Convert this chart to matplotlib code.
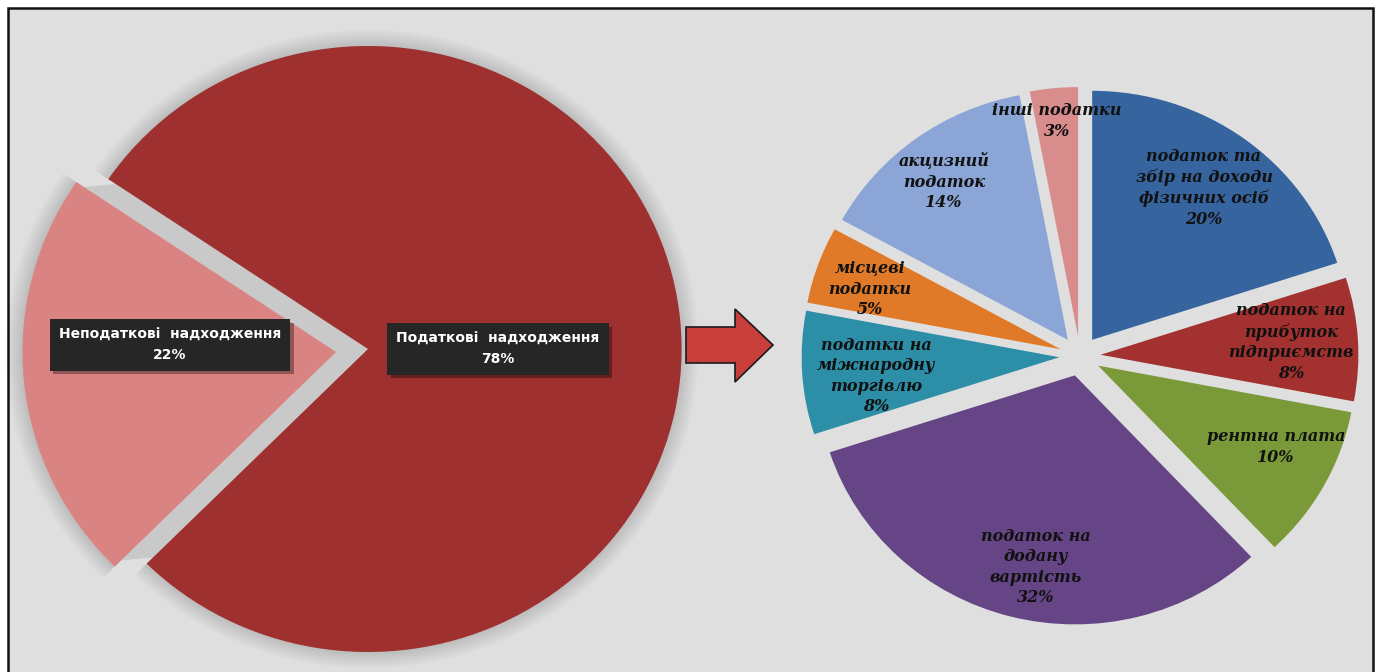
import matplotlib
matplotlib.use("Agg")
import matplotlib.pyplot as plt
import matplotlib.patches as patches
import matplotlib.patheffects as pe

# Picture size in pixels, and the slight horizontal stretch seen in the source
W, H = 1381, 672
SX = 1.035

# Left pie: tax vs non-tax revenue
left_labels = ["Неподаткові  надходження", "Податкові  надходження"]
left_values = [22, 78]
left_colors = ["#D98482", "#9E3030"]

# Right pie: structure of tax revenue
right_labels = ["податок та\nзбір на доходи\nфізичних осіб",
                "податок на\nприбуток\nпідприємств",
                "рентна плата",
                "податок на\nдодану\nвартість",
                "податки на\nміжнародну\nторгівлю",
                "місцеві\nподатки",
                "акцизний\nподаток",
                "інші податки"]
right_values = [20, 8, 10, 32, 8, 5, 14, 3]
right_colors = ["#35649E", "#A2312F", "#7A9A3A", "#654585",
                "#2D8EA8", "#E07A28", "#8BA5D6", "#D98C8C"]


def X(px):
    return px / SX


def Y(py):
    return H - py


fig = plt.figure(figsize=(W / 100, H / 100), dpi=100, facecolor="white")
ax = fig.add_axes([0, 0, 1, 1])
ax.set_xlim(0, W / SX)
ax.set_ylim(0, H)
ax.axis("off")

# framed gray panel
ax.add_patch(patches.Rectangle((X(8), Y(680)), X(1373) - X(8), 672,
                               facecolor="#DFDFDF", edgecolor="#111111", linewidth=1.8, zorder=0))

# --- left pie ---
lc = (X(368), Y(349))
lr = 303
lstart = 145.9
pink_expl = 31

# soft outer shadow
for k in range(12):
    ax.pie(left_values, radius=lr + 1.5 * k, center=lc, startangle=lstart,
           counterclock=True, explode=[pink_expl, 0], colors=["black", "black"],
           wedgeprops=dict(alpha=0.012, linewidth=0), frame=True)

# gray shadow filling the gap between the slices
for e in range(0, pink_expl + 1, 2):
    ax.pie(left_values, radius=lr - 8, center=lc, startangle=lstart,
           counterclock=True, explode=[e, 0], colors=["#C9C9C9", "#C9C9C9"],
           wedgeprops=dict(linewidth=0), frame=True)

ax.pie(left_values, radius=lr, center=lc, startangle=lstart, counterclock=True,
       explode=[pink_expl, 0], colors=left_colors, wedgeprops=dict(linewidth=0), frame=True)

left_pos = [(170, 345), (498, 349)]
for lab, val, (px, py) in zip(left_labels, left_values, left_pos):
    t = ax.text(X(px), Y(py), f"{lab}\n{val}%", ha="center", va="center", fontsize=10,
                fontweight="bold", color="white", linespacing=1.5,
                bbox=dict(boxstyle="square,pad=0.65", fc="#262626", ec="none"))
    t.get_bbox_patch().set_path_effects(
        [pe.SimplePatchShadow(offset=(2.5, -2.5), shadow_rgbFace="black", alpha=0.35), pe.Normal()])

# --- arrow ---
arrow_pts = [(686, 327), (735, 327), (735, 309), (773, 345),
             (735, 382), (735, 363), (686, 363)]
ax.add_patch(patches.Polygon([(X(x), Y(y)) for x, y in arrow_pts], closed=True,
                             facecolor="#C83E3A", edgecolor="#1a1a1a", linewidth=1.2))

# --- right pie ---
rc = (X(1080), Y(356))
rr = 249
ax.pie(right_values, radius=rr, center=rc, startangle=90, counterclock=False,
       explode=[20] * len(right_values), colors=right_colors,
       wedgeprops=dict(linewidth=0), frame=True)

right_pos = [(1204, 188), (1291, 342), (1276, 447), (1036, 567),
             (876, 376), (870, 289), (944, 182), (1057, 121)]
for lab, val, (px, py) in zip(right_labels, right_values, right_pos):
    ax.text(X(px), Y(py), f"{lab}\n{val}%", ha="center", va="center",
            fontsize=11.5, fontweight="bold", fontstyle="italic",
            family="DejaVu Serif", color="#111111", linespacing=1.27)

ax.set_xlim(0, W / SX)
ax.set_ylim(0, H)
ax.set_aspect("auto")
ax.axis("off")

fig.savefig("out.png", dpi=100, facecolor="white")
